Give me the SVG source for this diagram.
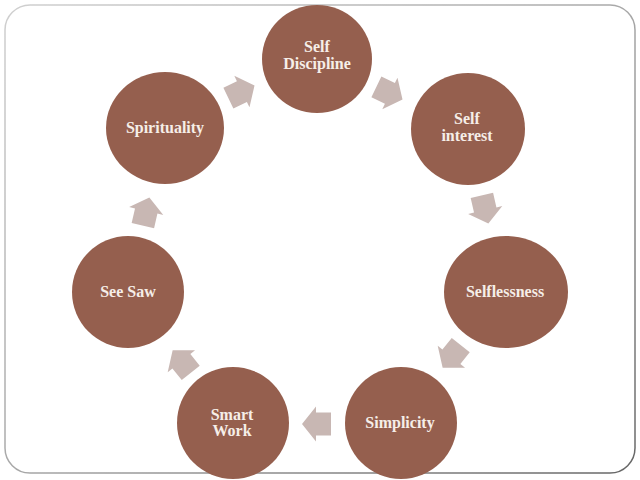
<svg xmlns="http://www.w3.org/2000/svg" width="640" height="480" viewBox="0 0 640 480">
  <defs>
    <linearGradient id="border" x1="0" y1="0" x2="1" y2="1">
      <stop offset="0" stop-color="#d0d0d0"/>
      <stop offset="0.5" stop-color="#a8a8a8"/>
      <stop offset="1" stop-color="#666666"/>
    </linearGradient>
    <polygon id="arrow" points="-14,-11.5 1,-11.5 1,-17.5 15,0 1,17.5 1,11.5 -14,11.5"/>
  </defs>
  <style>
    .node { fill: #955f4e; }
    .label { fill: #f6eee8; font-family: "Liberation Serif", "DejaVu Serif", serif; font-weight: bold; font-size: 16px; text-anchor: middle; }
    .conn { fill: #c8b7b3; }
  </style>
  <rect x="0" y="0" width="640" height="480" fill="#ffffff"/>
  <rect x="5" y="5" width="630" height="468" rx="25" ry="25" fill="#ffffff" stroke="url(#border)" stroke-width="1.5"/>

  <g id="connectors" class="conn">
    <use href="#arrow" transform="translate(389,93) rotate(25.7)"/>
    <use href="#arrow" transform="translate(485,209) rotate(77.1)"/>
    <use href="#arrow" transform="translate(452,356) rotate(128.6)"/>
    <use href="#arrow" transform="translate(317,424) rotate(180)"/>
    <use href="#arrow" transform="translate(182,362) rotate(231.4)"/>
    <use href="#arrow" transform="translate(146,212) rotate(282.9)"/>
    <use href="#arrow" transform="translate(241,92) rotate(334.3)"/>
  </g>

  <g id="node-self-discipline">
    <ellipse class="node" cx="317" cy="59" rx="55" ry="54"/>
    <text class="label" x="317" y="52">Self</text>
    <text class="label" x="317" y="69">Discipline</text>
  </g>
  <g id="node-self-interest">
    <ellipse class="node" cx="468" cy="129" rx="57" ry="56"/>
    <text class="label" x="467" y="124">Self</text>
    <text class="label" x="467" y="141">interest</text>
  </g>
  <g id="node-selflessness">
    <ellipse class="node" cx="506" cy="292" rx="62" ry="56"/>
    <text class="label" x="505" y="297">Selflessness</text>
  </g>
  <g id="node-simplicity">
    <ellipse class="node" cx="401" cy="423" rx="56" ry="56"/>
    <text class="label" x="400" y="428">Simplicity</text>
  </g>
  <g id="node-smart-work">
    <ellipse class="node" cx="233" cy="423" rx="56" ry="56"/>
    <text class="label" x="232" y="420">Smart</text>
    <text class="label" x="232" y="436">Work</text>
  </g>
  <g id="node-see-saw">
    <ellipse class="node" cx="128" cy="292" rx="56" ry="56"/>
    <text class="label" x="128" y="297">See Saw</text>
  </g>
  <g id="node-spirituality">
    <ellipse class="node" cx="165" cy="128" rx="59" ry="56"/>
    <text class="label" x="165" y="133">Spirituality</text>
  </g>
</svg>
